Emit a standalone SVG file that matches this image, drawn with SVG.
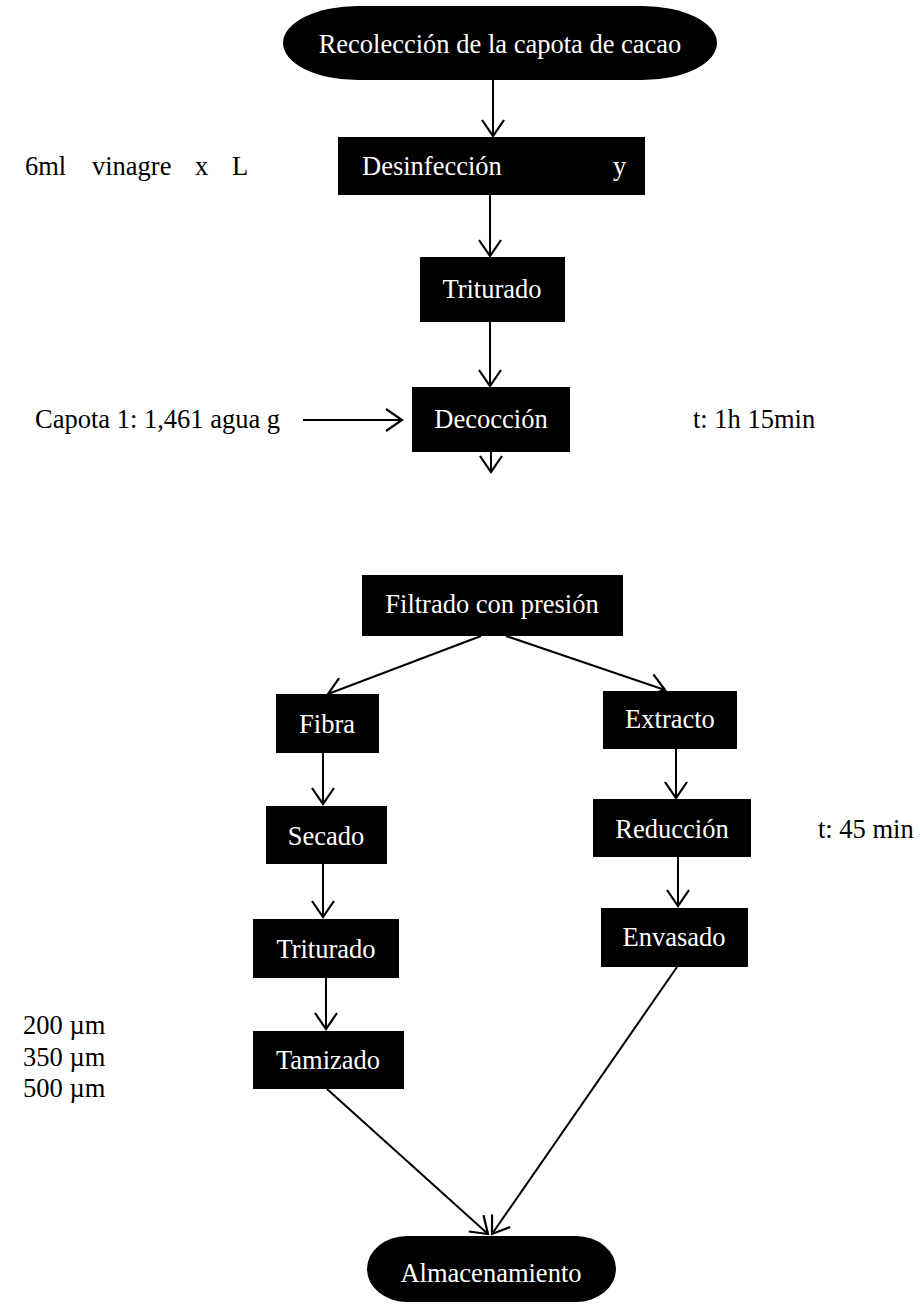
<svg xmlns="http://www.w3.org/2000/svg" width="920" height="1305" viewBox="0 0 920 1305">
<style>
.box{fill:#000;}
.lbl{font-family:"Liberation Serif","Times New Roman",serif;font-size:26.5px;fill:#fff;text-anchor:middle;}
.note{font-family:"Liberation Serif","Times New Roman",serif;font-size:26.5px;fill:#000;}
.con{stroke:#000;stroke-width:2;fill:none;marker-end:url(#arr);}
</style>
<defs>
<marker id="arr" markerUnits="userSpaceOnUse" viewBox="-18 -13 20 26" refX="0" refY="0" markerWidth="20" markerHeight="26" orient="auto">
<path d="M-16,-11 L0,0 L-16,11" fill="none" stroke="#000" stroke-width="2.2"/>
</marker>
</defs>
<rect width="920" height="1305" fill="#fff"/>

<g id="connectors">
<line class="con" x1="493" y1="80" x2="493" y2="136"/>
<line class="con" x1="490" y1="195" x2="490" y2="256"/>
<line class="con" x1="490" y1="322" x2="490" y2="386"/>
<line class="con" x1="303" y1="420" x2="402" y2="420"/>
<line class="con" x1="491" y1="452" x2="491" y2="472"/>
<line class="con" x1="481" y1="636" x2="328" y2="694"/>
<line class="con" x1="506" y1="636" x2="665" y2="690"/>
<line class="con" x1="323" y1="753" x2="323" y2="804"/>
<line class="con" x1="323" y1="864" x2="323" y2="917"/>
<line class="con" x1="326" y1="978" x2="326" y2="1029"/>
<line class="con" x1="676" y1="749" x2="676" y2="798"/>
<line class="con" x1="678" y1="857" x2="678" y2="906"/>
<line class="con" x1="327" y1="1089" x2="488" y2="1234"/>
<line class="con" x1="677" y1="967" x2="492" y2="1234"/>
</g>

<g id="recoleccion">
<rect class="box" x="283" y="6" width="434" height="74" rx="75" ry="37"/>
<text class="lbl" x="500" y="53">Recolección de la capota de cacao</text>
</g>
<g id="desinfeccion">
<rect class="box" x="338" y="137" width="307" height="58"/>
<text class="lbl" style="text-anchor:start" y="175"><tspan x="362">Desinfección</tspan><tspan x="613">y</tspan></text>
</g>
<g id="triturado1">
<rect class="box" x="420" y="257" width="145" height="65"/>
<text class="lbl" x="492" y="298">Triturado</text>
</g>
<g id="decoccion">
<rect class="box" x="412" y="387" width="158" height="65"/>
<text class="lbl" x="491" y="428">Decocción</text>
</g>
<g id="filtrado">
<rect class="box" x="362" y="575" width="261" height="61"/>
<text class="lbl" x="492" y="613">Filtrado con presión</text>
</g>
<g id="fibra">
<rect class="box" x="276" y="694" width="103" height="59"/>
<text class="lbl" x="327" y="733">Fibra</text>
</g>
<g id="extracto">
<rect class="box" x="603" y="691" width="134" height="58"/>
<text class="lbl" x="670" y="728">Extracto</text>
</g>
<g id="secado">
<rect class="box" x="266" y="806" width="121" height="58"/>
<text class="lbl" x="326" y="845">Secado</text>
</g>
<g id="triturado2">
<rect class="box" x="253" y="919" width="146" height="59"/>
<text class="lbl" x="326" y="958">Triturado</text>
</g>
<g id="tamizado">
<rect class="box" x="253" y="1031" width="151" height="58"/>
<text class="lbl" x="328" y="1069">Tamizado</text>
</g>
<g id="reduccion">
<rect class="box" x="593" y="799" width="158" height="58"/>
<text class="lbl" x="672" y="838">Reducción</text>
</g>
<g id="envasado">
<rect class="box" x="601" y="908" width="147" height="59"/>
<text class="lbl" x="674" y="946">Envasado</text>
</g>
<g id="almacenamiento">
<rect class="box" x="367" y="1236" width="249" height="66" rx="40" ry="33"/>
<text class="lbl" x="491" y="1282">Almacenamiento</text>
</g>

<g id="notes">
<text class="note" y="175"><tspan x="25">6ml</tspan><tspan x="92">vinagre</tspan><tspan x="195">x</tspan><tspan x="232">L</tspan></text>
<text class="note" x="35" y="428">Capota 1: 1,461 agua g</text>
<text class="note" x="693" y="428">t: 1h 15min</text>
<text class="note" x="818" y="838">t: 45 min</text>
<text class="note" x="23" y="1034">200 µm</text>
<text class="note" x="23" y="1066">350 µm</text>
<text class="note" x="23" y="1097">500 µm</text>
</g>
</svg>
